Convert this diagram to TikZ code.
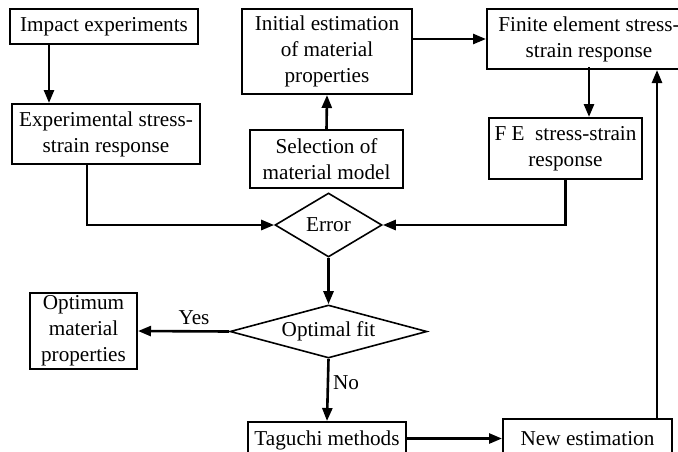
\documentclass[tikz,border=0pt]{standalone}
\usepackage{fontspec}
\setmainfont{Liberation Serif}
\usetikzlibrary{arrows.meta,shapes.geometric}
\tikzset{
  blk/.style={draw, line width=1pt, align=center, inner sep=0pt, font=\fontsize{10.6}{13}\selectfont},
  dec/.style={blk, diamond, line width=0.8pt},
  arr/.style={line width=1.3pt, -{Triangle[length=6.5pt,width=5pt]}},
  lbl/.style={font=\fontsize{10.6}{13}\selectfont},
}
\begin{document}
\begin{tikzpicture}[x=0.5pt,y=-0.5pt]
		%%%%% START %%%%%
		\useasboundingbox (0,0) rectangle (678,451);
		
		\node[blk, minimum width=94pt, minimum height=17.5pt] (impact) at (104,26.5) {Impact experiments};
		\node[blk, minimum width=94pt, minimum height=30pt] (exper) at (106,134) {Experimental stress-\\strain response};
		\node[blk, minimum width=85pt, minimum height=42.5pt] (initial) at (327,51.5) {Initial estimation\\of material\\properties};
		\node[blk, minimum width=76.5pt, minimum height=29pt] (select) at (326.5,159) {Selection of\\material model};
		\node[blk, minimum width=102pt, minimum height=30pt] (finite) at (589,39) {Finite element stress-\\strain response};
		\node[blk, minimum width=76.5pt, minimum height=30.5pt] (fe) at (565.5,148.5) {F E\ \ stress-strain\\response};
		
		\node[dec, aspect=1.67, minimum width=53.5pt, minimum height=32pt] (error) at (328.5,225) {Error};
		\node[dec, aspect=3.7, minimum width=98.5pt, minimum height=26.5pt] (optimal) at (328.5,331.5) {Optimal fit};
		\node[blk, minimum width=53.5pt, minimum height=38pt] (optimum) at (83.5,331) {Optimum\\material\\properties};
		
		\node[blk, minimum width=79pt, minimum height=18pt] (taguchi) at (327,440) {Taguchi methods};
		\node[blk, minimum width=84.5pt, minimum height=19.5pt] (newest) at (587.5,438.5) {New estimation};
		
		\coordinate (c1) at (49,0);
		\coordinate (c2) at (87,0);
		\coordinate (c3) at (657,0);
		
		\draw[arr] (impact.south -| c1) -- (exper.north -| c1);
		\draw[arr] (exper.south -| c2) |- (error.west);
		\draw[arr] (select.north) -- (initial.south);
		\draw[arr] (initial.east |- finite.west) -- (finite.west);
		\draw[arr] (fe.north -| finite.south) ++(0,-50) -- (fe.north -| finite.south);
		\draw[arr] (fe.south) |- (error.east);
		\draw[arr] (error.south) -- (optimal.north);
		\draw[arr] (optimal.west) -- (optimum.east);
		\draw[arr] (optimal.south) -- (taguchi.north);
		\draw[arr] (taguchi.east |- newest.west) -- (newest.west);
		\draw[arr] (newest.north -| c3) -- (finite.south -| c3);
		
		\node[lbl] (yes) at (194,318) {Yes};
		\node[lbl] (no) at (346,383) {No};
		%%%%% END %%%%%
\end{tikzpicture}
\end{document}
